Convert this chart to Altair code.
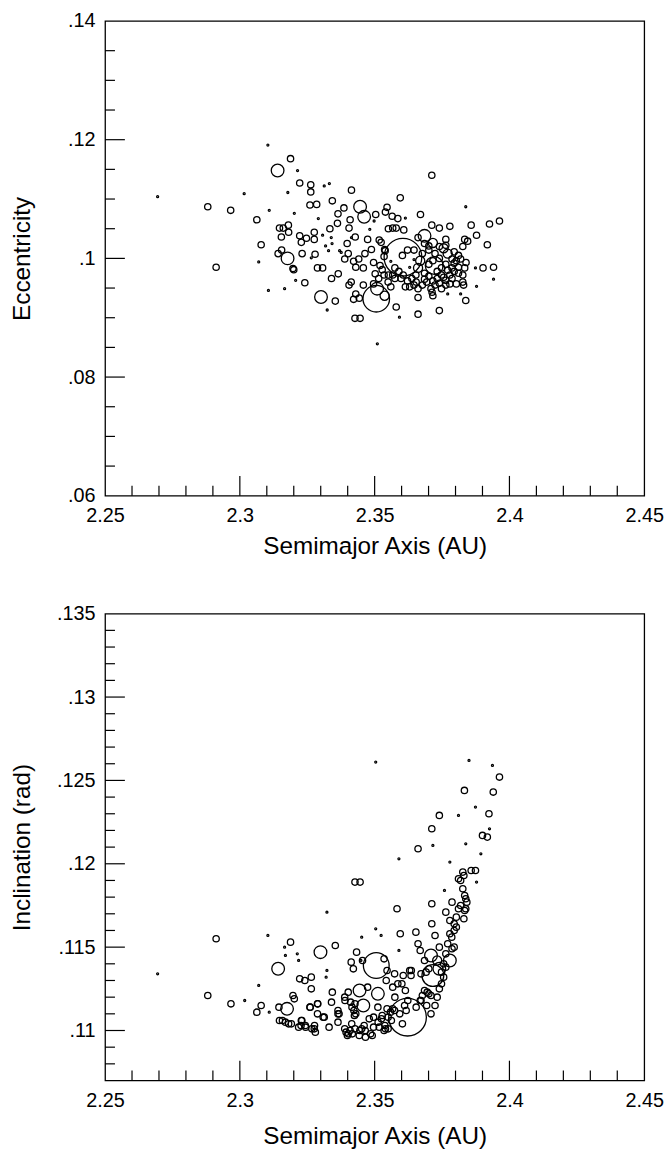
import altair as alt
import pandas as pd

# ---------------- top panel: semimajor axis (AU), eccentricity, relative diameter
top_a = [
    2.2695, 2.2881, 2.2912, 2.2966, 2.3016, 2.3063, 2.3079, 2.3070, 2.3104, 2.3109,
    2.3106, 2.3140, 2.3188, 2.3214, 2.3178, 2.3222, 2.3202, 2.3147, 2.3161, 2.3180,
    2.3154, 2.3181, 2.3155, 2.3142, 2.3177, 2.3197, 2.3200, 2.3207, 2.3166, 2.3241,
    2.3222, 2.3228, 2.3231, 2.3247, 2.3260, 2.3285, 2.3263, 2.3263, 2.3276, 2.3276,
    2.3279, 2.3265, 2.3288, 2.3307, 2.3301, 2.3354, 2.3324, 2.3313, 2.3332, 2.3343,
    2.3334, 2.3364, 2.3362, 2.3291, 2.3307, 2.3318, 2.3342, 2.3340, 2.3365, 2.3370,
    2.3386, 2.3414, 2.3409, 2.3405, 2.3414, 2.3446, 2.3461, 2.3428, 2.3398, 2.3402,
    2.3389, 2.3422, 2.3430, 2.3441, 2.3458, 2.3474, 2.3464, 2.3488, 2.3504, 2.3546,
    2.3540, 2.3565, 2.3586, 2.3595, 2.3551, 2.3567, 2.3580, 2.3608, 2.3614, 2.3482,
    2.3517, 2.3524, 2.3537, 2.3539, 2.3496, 2.3520, 2.3502, 2.3515, 2.3496, 2.3509,
    2.3506, 2.3537, 2.3430, 2.3422, 2.3443, 2.3427, 2.3446, 2.3458, 2.3405, 2.3413,
    2.3510, 2.3580, 2.3592, 2.3661, 2.3740, 2.3712, 2.3838, 2.3878, 2.3838, 2.3858,
    2.3878, 2.3926, 2.3963, 2.3918, 2.3902, 2.3941, 2.3941, 2.3845, 2.3834, 2.3827,
    2.3779, 2.3740, 2.3764, 2.3795, 2.3771, 2.3756, 2.3716, 2.3712, 2.3670, 2.3661,
    2.3685, 2.3605, 2.3721, 2.3575, 2.3598, 2.3614, 2.3630, 2.3646, 2.3661, 2.3677,
    2.3693, 2.3709, 2.3724, 2.3732, 2.3748, 2.3764, 2.3779, 2.3795, 2.3811, 2.3827,
    2.3834, 2.3839, 2.3819, 2.3803, 2.3787, 2.3787, 2.3748, 2.3732, 2.3716, 2.3701,
    2.3685, 2.3661, 2.3653, 2.3669, 2.3622, 2.3603, 2.3575, 2.3567, 2.3551, 2.3535,
    2.3528, 2.3748, 2.3764, 2.3827, 2.3830, 2.3803, 2.3779, 2.3819, 2.3771, 2.3716,
    2.3713, 2.3661, 2.3701, 2.3677, 2.3646, 2.3339, 2.3329, 2.3376, 2.3498, 2.3874,
    2.3590, 2.3606, 2.3622, 2.3638, 2.3654, 2.3685, 2.3701, 2.3716, 2.3740, 2.3756,
    2.3771, 2.3787, 2.3811, 2.3795, 2.3764, 2.3740, 2.3724, 2.3701, 2.3685, 2.3740,
    2.3764, 2.3811, 2.3550, 2.3560, 2.3535, 2.3560, 2.3630, 2.3646,
]
top_e = [
    0.1104, 0.1087, 0.0985, 0.1081, 0.1109, 0.1065, 0.1023, 0.0994, 0.1191, 0.1081,
    0.0946, 0.1148, 0.1168, 0.1148, 0.1111, 0.1127, 0.1076, 0.1051, 0.1051, 0.1056,
    0.1036, 0.1044, 0.1014, 0.1008, 0.1000, 0.0983, 0.0981, 0.0963, 0.0949, 0.0959,
    0.1038, 0.1027, 0.1008, 0.1034, 0.1090, 0.1091, 0.1124, 0.1112, 0.1044, 0.1032,
    0.1007, 0.1001, 0.0984, 0.0984, 0.0935, 0.0928, 0.0913, 0.1122, 0.1126, 0.1097,
    0.1050, 0.1075, 0.1059, 0.1067, 0.1039, 0.1021, 0.1025, 0.0966, 0.0974, 0.1013,
    0.1085, 0.1115, 0.1065, 0.1051, 0.1035, 0.1087, 0.1070, 0.1036, 0.1025, 0.1008,
    0.0999, 0.0995, 0.0985, 0.0999, 0.0984, 0.1032, 0.1008, 0.1015, 0.1074, 0.1086,
    0.1078, 0.1071, 0.1067, 0.1102, 0.1050, 0.1051, 0.1051, 0.1048, 0.1068, 0.1049,
    0.1031, 0.1027, 0.1015, 0.1013, 0.0993, 0.0988, 0.0974, 0.0966, 0.0957, 0.0949,
    0.0932, 0.0937, 0.0940, 0.0931, 0.0933, 0.0899, 0.0899, 0.0955, 0.0955, 0.0960,
    0.0856, 0.0918, 0.0901, 0.0906, 0.0912, 0.1140, 0.0929, 0.0953, 0.1087, 0.1056,
    0.1039, 0.1058, 0.1063, 0.1023, 0.0984, 0.0985, 0.0965, 0.1029, 0.1032, 0.1020,
    0.1054, 0.1051, 0.1032, 0.1011, 0.1008, 0.1017, 0.1026, 0.1056, 0.1074, 0.1035,
    0.1038, 0.1002, 0.0988, 0.0966, 0.0966, 0.0952, 0.0952, 0.0955, 0.0949, 0.0955,
    0.0960, 0.0949, 0.0955, 0.0966, 0.0972, 0.0963, 0.0972, 0.0978, 0.0975, 0.0972,
    0.0984, 0.0993, 0.0999, 0.0996, 0.0999, 0.0984, 0.0984, 0.0978, 0.0996, 0.0990,
    0.0975, 0.0984, 0.0972, 0.0996, 0.1014, 0.1005, 0.0984, 0.0972, 0.0972, 0.0972,
    0.0981, 0.0949, 0.0955, 0.0960, 0.0955, 0.0957, 0.0957, 0.0940, 0.0940, 0.0937,
    0.0943, 0.0934, 0.1014, 0.1008, 0.1014, 0.1035, 0.1013, 0.1010, 0.1063, 0.0984,
    0.0978, 0.0972, 0.0962, 0.0966, 0.0960, 0.0965, 0.0970, 0.0962, 0.0958, 0.0968,
    0.0980, 0.0966, 0.0985, 0.0992, 0.0990, 0.1000, 0.1008, 0.1021, 0.1025, 0.1020,
    0.1022, 0.1005, 0.0960, 0.0952, 0.1003, 0.0995, 0.0985, 0.0998,
]
top_d = [
    0.5, 1.6, 1.6, 1.6, 0.5, 1.6, 1.6, 0.5, 0.5, 0.5,
    0.5, 3.2, 1.6, 0.5, 0.5, 1.6, 0.5, 1.6, 1.6, 1.6,
    1.6, 1.6, 1.6, 1.6, 3.2, 1.6, 1.6, 0.5, 0.5, 1.6,
    1.6, 1.6, 1.6, 1.6, 1.6, 1.6, 1.6, 1.6, 1.6, 1.6,
    1.6, 0.5, 1.6, 1.6, 3.2, 1.6, 0.5, 0.5, 0.5, 1.6,
    1.6, 1.6, 1.6, 0.5, 0.5, 0.5, 0.5, 1.6, 1.6, 0.5,
    1.6, 1.6, 1.6, 1.6, 0.5, 3.2, 3.2, 1.6, 1.6, 1.6,
    1.6, 1.6, 1.6, 1.6, 1.6, 1.6, 1.6, 1.6, 1.6, 1.6,
    1.6, 1.6, 1.6, 1.6, 1.6, 1.6, 1.6, 1.6, 0.5, 0.5,
    1.6, 1.6, 1.6, 1.6, 1.6, 1.6, 1.6, 1.6, 1.6, 3.2,
    6.7, 2.3, 1.6, 1.6, 1.6, 1.6, 1.6, 1.6, 1.6, 1.6,
    0.5, 1.6, 0.5, 1.6, 1.6, 1.6, 1.6, 0.5, 0.5, 1.6,
    1.6, 1.6, 1.6, 1.6, 1.6, 1.6, 0.5, 1.6, 1.6, 1.6,
    1.6, 1.6, 1.6, 1.6, 2.3, 2.3, 2.3, 1.6, 1.6, 1.6,
    3.2, 9.5, 4.5, 1.6, 1.6, 1.6, 1.6, 1.6, 1.6, 1.6,
    1.6, 1.6, 1.6, 1.6, 1.6, 1.6, 1.6, 1.6, 1.6, 1.6,
    1.6, 1.6, 1.6, 1.6, 1.6, 1.6, 1.6, 1.6, 1.6, 1.6,
    1.6, 2.3, 1.6, 2.3, 1.6, 1.6, 1.6, 1.6, 1.6, 1.6,
    1.6, 1.6, 1.6, 1.6, 1.6, 1.6, 1.6, 0.5, 0.5, 1.6,
    1.6, 1.6, 1.6, 1.6, 1.6, 0.5, 0.5, 0.5, 0.5, 0.5,
    1.6, 1.6, 1.6, 1.6, 1.6, 1.6, 1.6, 1.6, 1.6, 1.6,
    1.6, 1.6, 1.6, 1.6, 1.6, 1.6, 1.6, 1.6, 1.6, 1.6,
    1.6, 1.6, 1.6, 1.6, 1.6, 0.5, 0.5, 0.5,
]

# ---------------- bottom panel: semimajor axis (AU), inclination (rad), relative diameter
bot_a = [
    2.2695, 2.2881, 2.2912, 2.2967, 2.3018, 2.3063, 2.3079, 2.3070, 2.3104, 2.3109,
    2.3142, 2.3145, 2.3147, 2.3158, 2.3175, 2.3181, 2.3191, 2.3188, 2.3166, 2.3169,
    2.3197, 2.3202, 2.3213, 2.3222, 2.3241, 2.3265, 2.3265, 2.3228, 2.3227, 2.3244,
    2.3277, 2.3276, 2.3260, 2.3288, 2.3288, 2.3309, 2.3299, 2.3323, 2.3320, 2.3343,
    2.3340, 2.3364, 2.3364, 2.3354, 2.3323, 2.3331, 2.3364, 2.3389, 2.3389, 2.3402,
    2.3394, 2.3402, 2.3416, 2.3425, 2.3413, 2.3421, 2.3433, 2.3444, 2.3458, 2.3474,
    2.3449, 2.3452, 2.3427, 2.3446, 2.3504, 2.3504, 2.3524, 2.3506, 2.3535, 2.3546,
    2.3512, 2.3512, 2.3480, 2.3465, 2.3485, 2.3443, 2.3417, 2.3452, 2.3496, 2.3517,
    2.3535, 2.3540, 2.3528, 2.3546, 2.3543, 2.3567, 2.3583, 2.3590, 2.3595, 2.3590,
    2.3606, 2.3614, 2.3575, 2.3567, 2.3559, 2.3603, 2.3622, 2.3630, 2.3635, 2.3653,
    2.3661, 2.3661, 2.3669, 2.3685, 2.3701, 2.3709, 2.3712, 2.3716, 2.3740, 2.3712,
    2.3712, 2.3724, 2.3732, 2.3740, 2.3716, 2.3748, 2.3756, 2.3685, 2.3677, 2.3669,
    2.3701, 2.3709, 2.3693, 2.3779, 2.3764, 2.3787, 2.3795, 2.3786, 2.3764, 2.3779,
    2.3787, 2.3795, 2.3803, 2.3811, 2.3779, 2.3759, 2.3811, 2.3827, 2.3811, 2.3819,
    2.3831, 2.3834, 2.3838, 2.3842, 2.3838, 2.3834, 2.3831, 2.3874, 2.3858, 2.3878,
    2.3833, 2.3850, 2.3874, 2.3924, 2.3940, 2.3937, 2.3963, 2.3900, 2.3918, 2.3926,
    2.3894, 2.3838, 2.3455, 2.3390, 2.3411, 2.3427, 2.3423, 2.3368, 2.3430, 2.3574,
    2.3586, 2.3601, 2.3636, 2.3672, 2.3691, 2.3695, 2.3672, 2.3654, 2.3623, 2.3611,
    2.3617, 2.3593, 2.3574, 2.3562, 2.3550, 2.3538, 2.3550, 2.3525, 2.3513, 2.3461,
    2.3445, 2.3427, 2.3409, 2.3399, 2.3415, 2.3496, 2.3491, 2.3466, 2.3243, 2.3230,
    2.3218, 2.3267, 2.3280, 2.3169, 2.3261, 2.3289, 2.3313, 2.3218, 2.3740, 2.3748,
    2.3756, 2.3764, 2.3771, 2.3779, 2.3795, 2.3803, 2.3819, 2.3827, 2.3732, 2.3724,
    2.3709, 2.3740,
]
bot_i = [
    0.1134, 0.1121, 0.1155, 0.1116, 0.1118, 0.1111, 0.1115, 0.1127, 0.1157, 0.1111,
    0.1137, 0.1114, 0.1106, 0.1106, 0.1113, 0.1104, 0.1104, 0.1153, 0.1150, 0.1145,
    0.1121, 0.1119, 0.1146, 0.1131, 0.1130, 0.1132, 0.1125, 0.1106, 0.1103, 0.1102,
    0.1103, 0.1101, 0.1114, 0.1116, 0.1110, 0.1108, 0.1147, 0.1136, 0.1132, 0.1123,
    0.1117, 0.1112, 0.1110, 0.1151, 0.1171, 0.1102, 0.1105, 0.1120, 0.1101, 0.1098,
    0.1099, 0.1123, 0.1114, 0.1109, 0.1141, 0.1137, 0.1147, 0.1124, 0.1115, 0.1126,
    0.1142, 0.1156, 0.1189, 0.1189, 0.1261, 0.1161, 0.1157, 0.1139, 0.1143, 0.1136,
    0.1122, 0.1114, 0.1107, 0.1100, 0.1098, 0.1097, 0.1098, 0.1101, 0.1108, 0.1102,
    0.1100, 0.1101, 0.1109, 0.1113, 0.1130, 0.1126, 0.1173, 0.1203, 0.1158, 0.1148,
    0.1133, 0.1124, 0.1120, 0.1113, 0.1111, 0.1104, 0.1108, 0.1136, 0.1133, 0.1159,
    0.1152, 0.1209, 0.1148, 0.1142, 0.1137, 0.1145, 0.1221, 0.1211, 0.1229, 0.1176,
    0.1164, 0.1157, 0.1142, 0.1137, 0.1133, 0.1135, 0.1132, 0.1124, 0.1121, 0.1118,
    0.1122, 0.1121, 0.1115, 0.1142, 0.1146, 0.1149, 0.1150, 0.1156, 0.1171, 0.1166,
    0.1177, 0.1164, 0.1162, 0.1173, 0.1201, 0.1184, 0.1229, 0.1195, 0.1191, 0.1190,
    0.1193, 0.1181, 0.1179, 0.1177, 0.1173, 0.1172, 0.1167, 0.1196, 0.1196, 0.1189,
    0.1244, 0.1262, 0.1234, 0.1230, 0.1243, 0.1259, 0.1252, 0.1217, 0.1216, 0.1221,
    0.1206, 0.1212, 0.1142, 0.1118, 0.1117, 0.1116, 0.1112, 0.1110, 0.1110, 0.1134,
    0.1128, 0.1128, 0.1136, 0.1134, 0.1135, 0.1123, 0.1118, 0.1114, 0.1118, 0.1115,
    0.1112, 0.1110, 0.1112, 0.1106, 0.1108, 0.1103, 0.1101, 0.1107, 0.1105, 0.1103,
    0.1100, 0.1101, 0.1100, 0.1097, 0.1104, 0.1102, 0.1097, 0.1096, 0.1103, 0.1106,
    0.1102, 0.1101, 0.1099, 0.1105, 0.1114, 0.1116, 0.1108, 0.1142, 0.1125, 0.1128,
    0.1140, 0.1138, 0.1152, 0.1158, 0.1160, 0.1168, 0.1175, 0.1185, 0.1120, 0.1115,
    0.1110, 0.1150,
]
bot_d = [
    0.5, 1.6, 1.6, 1.6, 0.5, 1.6, 1.6, 0.5, 0.5, 0.5,
    3.2, 1.6, 1.6, 1.6, 3.2, 1.6, 1.6, 1.6, 0.5, 0.5,
    1.6, 1.6, 0.5, 1.6, 1.6, 1.6, 1.6, 1.6, 1.6, 1.6,
    1.6, 1.6, 1.6, 1.6, 1.6, 1.6, 3.2, 0.5, 0.5, 1.6,
    1.6, 1.6, 1.6, 1.6, 0.5, 1.6, 1.6, 1.6, 1.6, 1.6,
    1.6, 1.6, 1.6, 1.6, 1.6, 1.6, 1.6, 3.2, 3.2, 1.6,
    0.5, 0.5, 1.6, 1.6, 0.5, 0.5, 0.5, 6.5, 1.6, 1.6,
    3.2, 1.6, 1.6, 1.6, 1.6, 1.6, 1.6, 1.6, 1.6, 1.6,
    1.6, 1.6, 1.6, 1.6, 1.6, 1.6, 1.6, 0.5, 1.6, 0.5,
    1.6, 1.6, 1.6, 1.6, 1.6, 1.6, 9.5, 1.6, 1.6, 1.6,
    1.6, 1.6, 1.6, 1.6, 1.6, 3.2, 1.6, 0.5, 1.6, 1.6,
    1.6, 1.6, 2.3, 3.2, 5.5, 1.6, 1.6, 1.6, 1.6, 1.6,
    1.6, 1.6, 1.6, 3.2, 1.6, 1.6, 1.6, 1.6, 1.6, 1.6,
    1.6, 1.6, 1.6, 1.6, 0.5, 0.5, 0.5, 1.6, 1.6, 1.6,
    1.6, 1.6, 1.6, 1.6, 1.6, 1.6, 1.6, 1.6, 1.6, 0.5,
    1.6, 0.5, 0.5, 1.6, 1.6, 0.5, 1.6, 1.6, 1.6, 0.5,
    0.5, 0.5, 1.6, 1.6, 1.6, 1.6, 1.6, 1.6, 1.6, 1.6,
    1.6, 1.6, 1.6, 1.6, 1.6, 1.6, 1.6, 1.6, 1.6, 1.6,
    1.6, 1.6, 1.6, 1.6, 1.6, 1.6, 1.6, 1.6, 1.6, 1.6,
    1.6, 1.6, 1.6, 1.6, 1.6, 1.6, 1.6, 1.6, 1.6, 1.6,
    1.6, 1.6, 1.6, 1.6, 1.6, 1.6, 1.6, 0.5, 1.6, 1.6,
    1.6, 1.6, 1.6, 1.6, 1.6, 1.6, 1.6, 1.6, 1.6, 1.6,
    1.6, 1.6,
]

# ---------------- axis ticks and labels
x_labels = [2.25, 2.3, 2.35, 2.4, 2.45]
x_major = [2.3, 2.35, 2.4]
x_minor = [2.26, 2.27, 2.28, 2.29, 2.31, 2.32, 2.33, 2.34,
           2.36, 2.37, 2.38, 2.39, 2.41, 2.42, 2.43, 2.44]
top_y_labels = [0.06, 0.08, 0.1, 0.12, 0.14]
top_y_major = [0.08, 0.1, 0.12]
top_y_minor = [0.065, 0.07, 0.075, 0.085, 0.09, 0.095, 0.105, 0.11,
               0.115, 0.125, 0.13, 0.135]
bot_y_labels = [0.11, 0.115, 0.12, 0.125, 0.13, 0.135]
bot_y_major = [0.11, 0.115, 0.12, 0.125, 0.13]
bot_y_minor = [0.108, 0.109, 0.111, 0.112, 0.113, 0.114, 0.116, 0.117,
               0.118, 0.119, 0.121, 0.122, 0.123, 0.124, 0.126, 0.127,
               0.128, 0.129, 0.131, 0.132, 0.133, 0.134]

W = 544
H1 = 479
H2 = 471
FONT = "Liberation Sans"
MAJOR = 20
MINOR = 10


def panel(a, yv, d, ytitle, ydom, y_labels, y_major, y_minor, H, xtitle_y):
    df = pd.DataFrame({"a": a, "y": yv, "d": d})
    xs = alt.Scale(domain=[2.25, 2.45], nice=False, zero=False)
    ys = alt.Scale(domain=ydom, nice=False, zero=False)
    xaxis = alt.Axis(
        values=x_labels, title="Semimajor Axis (AU)", grid=False,
        domain=False, ticks=False, tickSize=0,
        labelExpr="format(datum.value, '~g')", labelFlush=False,
        labelOverlap=False, labelFont=FONT, labelFontSize=20,
        labelColor="black", labelPadding=10,
        titleFont=FONT, titleFontSize=24.5, titleFontWeight="normal",
        titleColor="black", titleX=W / 2, titleY=xtitle_y,
        titleAlign="center", titleBaseline="middle")
    yaxis = alt.Axis(
        values=y_labels, title=ytitle, grid=False,
        domain=False, ticks=False, tickSize=0,
        labelExpr="substring(format(datum.value, '~g'), 1)",
        labelFlush=False, labelOverlap=False, labelFont=FONT,
        labelFontSize=20, labelColor="black", labelPadding=10,
        labelAlign="right", labelBaseline="middle",
        titleFont=FONT, titleFontSize=24.5, titleFontWeight="normal",
        titleColor="black", titleX=-83, titleY=H / 2, titleAngle=270,
        titleAlign="center", titleBaseline="middle")

    pts = alt.Chart(df).mark_point(
        shape="circle", filled=False, color="black", strokeWidth=1.3, opacity=1
    ).encode(
        x=alt.X("a:Q", scale=xs, axis=xaxis),
        y=alt.Y("y:Q", scale=ys, axis=yaxis),
        size=alt.Size("d:Q", scale=alt.Scale(type="pow", exponent=2,
                                              domain=[0, 10], range=[0, 1600]),
                      legend=None),
    )

    def xticks(vals, L):
        return alt.Chart(pd.DataFrame({"a": vals})).mark_rule(
            color="black", strokeWidth=1.2
        ).encode(x=alt.X("a:Q", scale=xs, axis=xaxis),
                 y=alt.value(H), y2=alt.value(H - L))

    def yticks(vals, L):
        return alt.Chart(pd.DataFrame({"y": vals})).mark_rule(
            color="black", strokeWidth=1.2
        ).encode(y=alt.Y("y:Q", scale=ys, axis=yaxis),
                 x=alt.value(0), x2=alt.value(L))

    return alt.layer(
        pts, xticks(x_minor, MINOR), xticks(x_major, MAJOR),
        yticks(y_minor, MINOR), yticks(y_major, MAJOR)
    ).properties(width=W, height=H)


top = panel(top_a, top_e, top_d, "Eccentricity", [0.06, 0.14],
            top_y_labels, top_y_major, top_y_minor, H1, 51)
bot = panel(bot_a, bot_i, bot_d, "Inclination (rad)", [0.107, 0.135],
            bot_y_labels, bot_y_major, bot_y_minor, H2, 57)

chart = alt.vconcat(top, bot, spacing=119, bounds="flush").configure_view(
    stroke="black", strokeWidth=1.3
).properties(
    padding={"left": 9, "top": 5, "right": 5, "bottom": 5},
    background="white",
)

chart.save("out.html", embed_options={"renderer": "svg", "actions": False})
